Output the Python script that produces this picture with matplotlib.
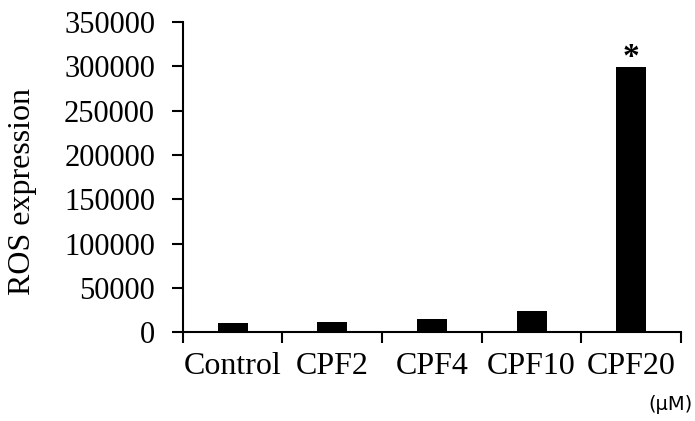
import matplotlib
matplotlib.use('Agg')
import matplotlib.pyplot as plt

categories = ['Control', 'CPF2', 'CPF4', 'CPF10', 'CPF20']
values = [9800, 11000, 14300, 23400, 299000]
marks = ['', '', '', '', '*']
yticks = [0, 50000, 100000, 150000, 200000, 250000, 300000, 350000]

plt.rcParams['font.family'] = ['Liberation Serif', 'DejaVu Serif']

fig = plt.figure(figsize=(6.95, 4.21), dpi=100)
ax = fig.add_axes([0.263, 0.211, 0.717, 0.737])

x = range(len(categories))
ax.bar(x, values, width=0.3, color='black')
for i, (v, m) in enumerate(zip(values, marks)):
    if m:
        ax.text(i, v + 11000, m, ha='center', va='center', fontsize=24, fontweight='bold')

ax.set_xlim(-0.5, len(categories) - 0.5)
ax.set_ylim(0, 350000)
ax.set_yticks(yticks)
ax.set_yticklabels([str(t) for t in yticks], fontsize=22)
ax.set_xticks([i - 0.5 for i in range(len(categories) + 1)])
ax.set_xticklabels([])
ax.set_xticks(list(x), minor=True)
ax.set_xticklabels(categories, minor=True, fontsize=23)
ax.tick_params(axis='x', which='minor', length=0, pad=14)
ax.tick_params(axis='x', which='major', direction='out', length=8, width=1.5)
ax.tick_params(axis='y', direction='out', length=8, width=1.5, pad=12)
ax.spines['top'].set_visible(False)
ax.spines['right'].set_visible(False)
ax.spines['left'].set_linewidth(1.5)
ax.spines['bottom'].set_linewidth(1.5)
ax.set_ylabel('ROS expression', fontsize=23, va='center')
ax.yaxis.set_label_coords(-0.321, 0.452)

fig.text(0.965, 0.04, '(μM)', fontsize=14, family='DejaVu Sans', ha='center', va='center')

fig.savefig('out.png', dpi=100)
